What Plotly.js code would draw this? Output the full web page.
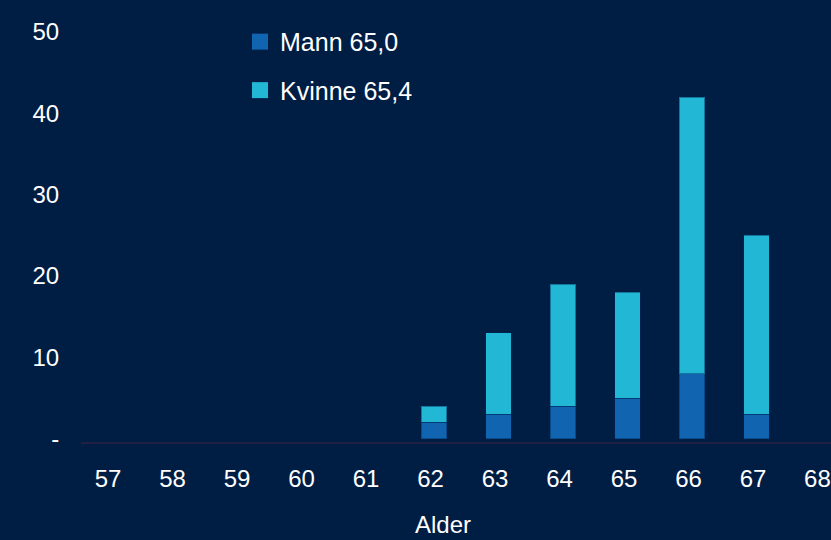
<!DOCTYPE html>
<html>
<head>
<meta charset="utf-8">
<script src="https://cdn.plot.ly/plotly-3.0.1.min.js"></script>
<style>
html,body{margin:0;padding:0;background:#001d44;}
#chart{width:831px;height:540px;}
</style>
</head>
<body>
<div id="chart"></div>
<script>
// Data
const ages = [57, 58, 59, 60, 61, 62, 63, 64, 65, 66, 67, 68];
const mann = [null, null, null, null, null, 2, 3, 4, 5, 8, 3, null];
const kvinne = [null, null, null, null, null, 2, 10, 15, 13, 34, 22, null];
const seriesNames = ['Mann 65,0', 'Kvinne 65,4'];
const yTickVals = [0, 10, 20, 30, 40, 50];
const yTickText = ['-', '10', '20', '30', '40', '50'];
const xTitle = 'Alder';

const colMann = '#1064b0';
const colKvinne = '#22b7d4';
const bg = '#001d44';
const fontFam = 'Liberation Sans, Arial, sans-serif';
const barStyle = {width: 0.39, offset: -0.141};

const traces = [
  {type: 'bar', x: ages, y: mann, name: seriesNames[0], showlegend: false,
   marker: {color: colMann, line: {color: 'rgba(0,40,90,0.45)', width: 1}}, width: barStyle.width, offset: barStyle.offset},
  {type: 'bar', x: ages, y: kvinne, name: seriesNames[1], showlegend: false,
   marker: {color: colKvinne, line: {color: 'rgba(0,40,90,0.45)', width: 1}}, width: barStyle.width, offset: barStyle.offset},
  {type: 'scatter', mode: 'markers', x: [null], y: [null], name: seriesNames[0], legendgroup: 'm',
   marker: {symbol: 'square', size: 16, color: colMann}},
  {type: 'scatter', mode: 'markers', x: [null], y: [null], name: seriesNames[1], legendgroup: 'k',
   marker: {symbol: 'square', size: 16, color: colKvinne}}
];

const layout = {
  width: 831, height: 540,
  paper_bgcolor: bg, plot_bgcolor: bg,
  margin: {l: 81, r: 0, t: 32, b: 98},
  barmode: 'stack',
  font: {family: fontFam, color: '#ffffff', size: 25},
  showlegend: true,
  legend: {x: 0.212, xanchor: 'left', y: 1.032, yanchor: 'top', traceorder: 'grouped', tracegroupgap: 13,
           bgcolor: 'rgba(0,0,0,0)', font: {size: 25, color: '#ffffff', family: fontFam}},
  xaxis: {type: 'linear', range: [56.58, 68.21], tickvals: ages, ticktext: ages.map(String),
          ticks: 'outside', ticklen: 14, tickcolor: 'rgba(0,0,0,0)', ticklabeloverflow: 'allow',
          showgrid: false, zeroline: false, showline: true, linecolor: '#211f42', linewidth: 2,
          tickfont: {size: 24, color: '#ffffff'}},
  yaxis: {range: [-0.4, 50], tickvals: yTickVals, ticktext: yTickText,
          ticks: 'outside', ticklen: 16, tickcolor: 'rgba(0,0,0,0)',
          showgrid: false, zeroline: false, showline: false,
          tickfont: {size: 24, color: '#ffffff'}},
  annotations: [{text: xTitle, xref: 'paper', yref: 'paper', x: 0.4827, y: -0.2024,
                 xanchor: 'center', yanchor: 'middle', showarrow: false,
                 font: {size: 24, color: '#ffffff', family: fontFam}}]
};

Plotly.newPlot('chart', traces, layout, {displayModeBar: false, staticPlot: true});
</script>
</body>
</html>
